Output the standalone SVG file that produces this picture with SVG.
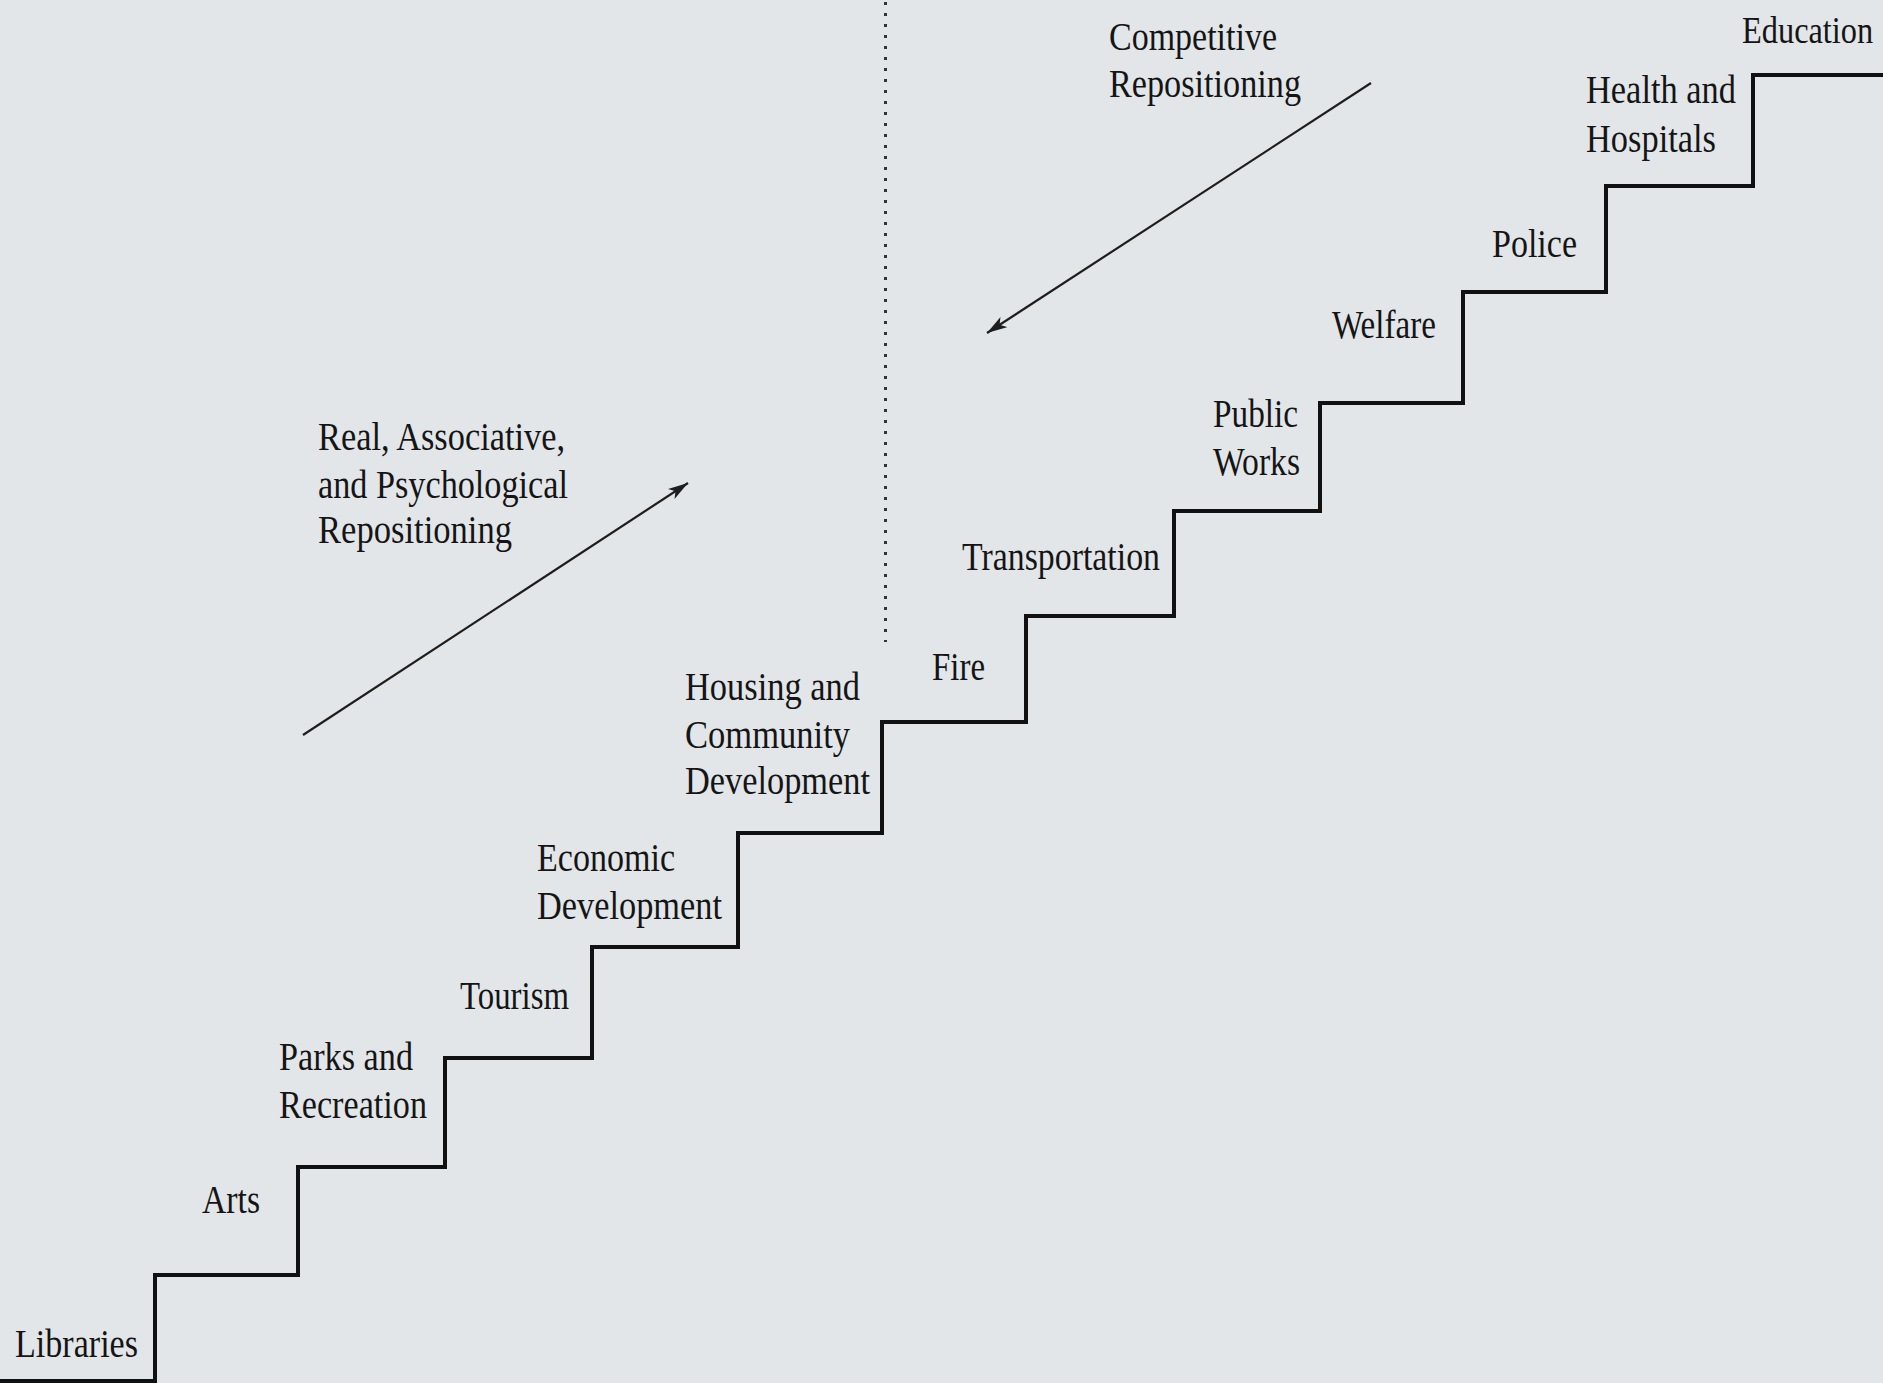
<svg xmlns="http://www.w3.org/2000/svg" width="1883" height="1383" viewBox="0 0 1883 1383">
  <style>
    .lbl { font-family: "Liberation Serif", "Times New Roman", serif; font-size: 39px; fill: #151515; }
    .step { fill: none; stroke: #111; stroke-width: 4; stroke-linejoin: miter; }
    .arrow { fill: none; stroke: #1e1e1e; stroke-width: 2.2; }
    .divider { fill: none; stroke: #333; stroke-width: 3; stroke-dasharray: 3 8; }
  </style>
  <defs>
    <marker id="head" markerUnits="userSpaceOnUse" markerWidth="22" markerHeight="14" refX="20" refY="7" orient="auto">
      <path d="M0,1 L20,7 L0,13 L5,7 Z" fill="#1e1e1e"/>
    </marker>
  </defs>

  <rect width="1883" height="1383" fill="#e3e6e9"/>

  <!-- staircase of service areas -->
  <g id="stairs">
    <path class="step" d="M0,1381 H155 V1275 H298 V1167 H445 V1058 H592 V947 H738 V833 H882 V722 H1026 V616 H1174 V511 H1320 V403 H1463 V292 H1606 V186 H1753 V75 H1883"/>
  </g>

  <!-- arrows and the divider -->
  <g id="connectors">
    <line class="divider" x1="885.5" y1="2" x2="885.5" y2="642"/>
    <line class="arrow" x1="303" y1="735" x2="688" y2="483" marker-end="url(#head)"/>
    <line class="arrow" x1="1371" y1="83" x2="987" y2="333" marker-end="url(#head)"/>
  </g>

  <!-- step labels -->
  <g id="libraries"><text class="lbl" x="15" y="1357" textLength="123" lengthAdjust="spacingAndGlyphs">Libraries</text></g>
  <g id="arts"><text class="lbl" x="202" y="1213" textLength="58" lengthAdjust="spacingAndGlyphs">Arts</text></g>
  <g id="parks">
    <text class="lbl" x="279" y="1070" textLength="134" lengthAdjust="spacingAndGlyphs">Parks and</text>
    <text class="lbl" x="279" y="1118" textLength="148" lengthAdjust="spacingAndGlyphs">Recreation</text>
  </g>
  <g id="tourism"><text class="lbl" x="460" y="1009" textLength="109" lengthAdjust="spacingAndGlyphs">Tourism</text></g>
  <g id="economic">
    <text class="lbl" x="537" y="871" textLength="138" lengthAdjust="spacingAndGlyphs">Economic</text>
    <text class="lbl" x="537" y="919" textLength="185" lengthAdjust="spacingAndGlyphs">Development</text>
  </g>
  <g id="housing">
    <text class="lbl" x="685" y="700" textLength="175" lengthAdjust="spacingAndGlyphs">Housing and</text>
    <text class="lbl" x="685" y="748" textLength="165" lengthAdjust="spacingAndGlyphs">Community</text>
    <text class="lbl" x="685" y="794" textLength="185" lengthAdjust="spacingAndGlyphs">Development</text>
  </g>
  <g id="fire"><text class="lbl" x="932" y="680" textLength="53" lengthAdjust="spacingAndGlyphs">Fire</text></g>
  <g id="transportation"><text class="lbl" x="962" y="570" textLength="198" lengthAdjust="spacingAndGlyphs">Transportation</text></g>
  <g id="public-works">
    <text class="lbl" x="1213" y="427" textLength="85" lengthAdjust="spacingAndGlyphs">Public</text>
    <text class="lbl" x="1213" y="475" textLength="87" lengthAdjust="spacingAndGlyphs">Works</text>
  </g>
  <g id="welfare"><text class="lbl" x="1332" y="338" textLength="104" lengthAdjust="spacingAndGlyphs">Welfare</text></g>
  <g id="police"><text class="lbl" x="1492" y="257" textLength="85" lengthAdjust="spacingAndGlyphs">Police</text></g>
  <g id="health">
    <text class="lbl" x="1586" y="103" textLength="150" lengthAdjust="spacingAndGlyphs">Health and</text>
    <text class="lbl" x="1586" y="152" textLength="130" lengthAdjust="spacingAndGlyphs">Hospitals</text>
  </g>
  <g id="education"><text class="lbl" transform="translate(1742,43) scale(0.83,1)">Education</text></g>

  <!-- arrow captions -->
  <g id="real-repositioning">
    <text class="lbl" x="318" y="450" textLength="247" lengthAdjust="spacingAndGlyphs">Real, Associative,</text>
    <text class="lbl" x="318" y="498" textLength="250" lengthAdjust="spacingAndGlyphs">and Psychological</text>
    <text class="lbl" x="318" y="543" textLength="194" lengthAdjust="spacingAndGlyphs">Repositioning</text>
  </g>
  <g id="competitive-repositioning">
    <text class="lbl" x="1109" y="50" textLength="168" lengthAdjust="spacingAndGlyphs">Competitive</text>
    <text class="lbl" x="1109" y="97" textLength="192" lengthAdjust="spacingAndGlyphs">Repositioning</text>
  </g>
</svg>
